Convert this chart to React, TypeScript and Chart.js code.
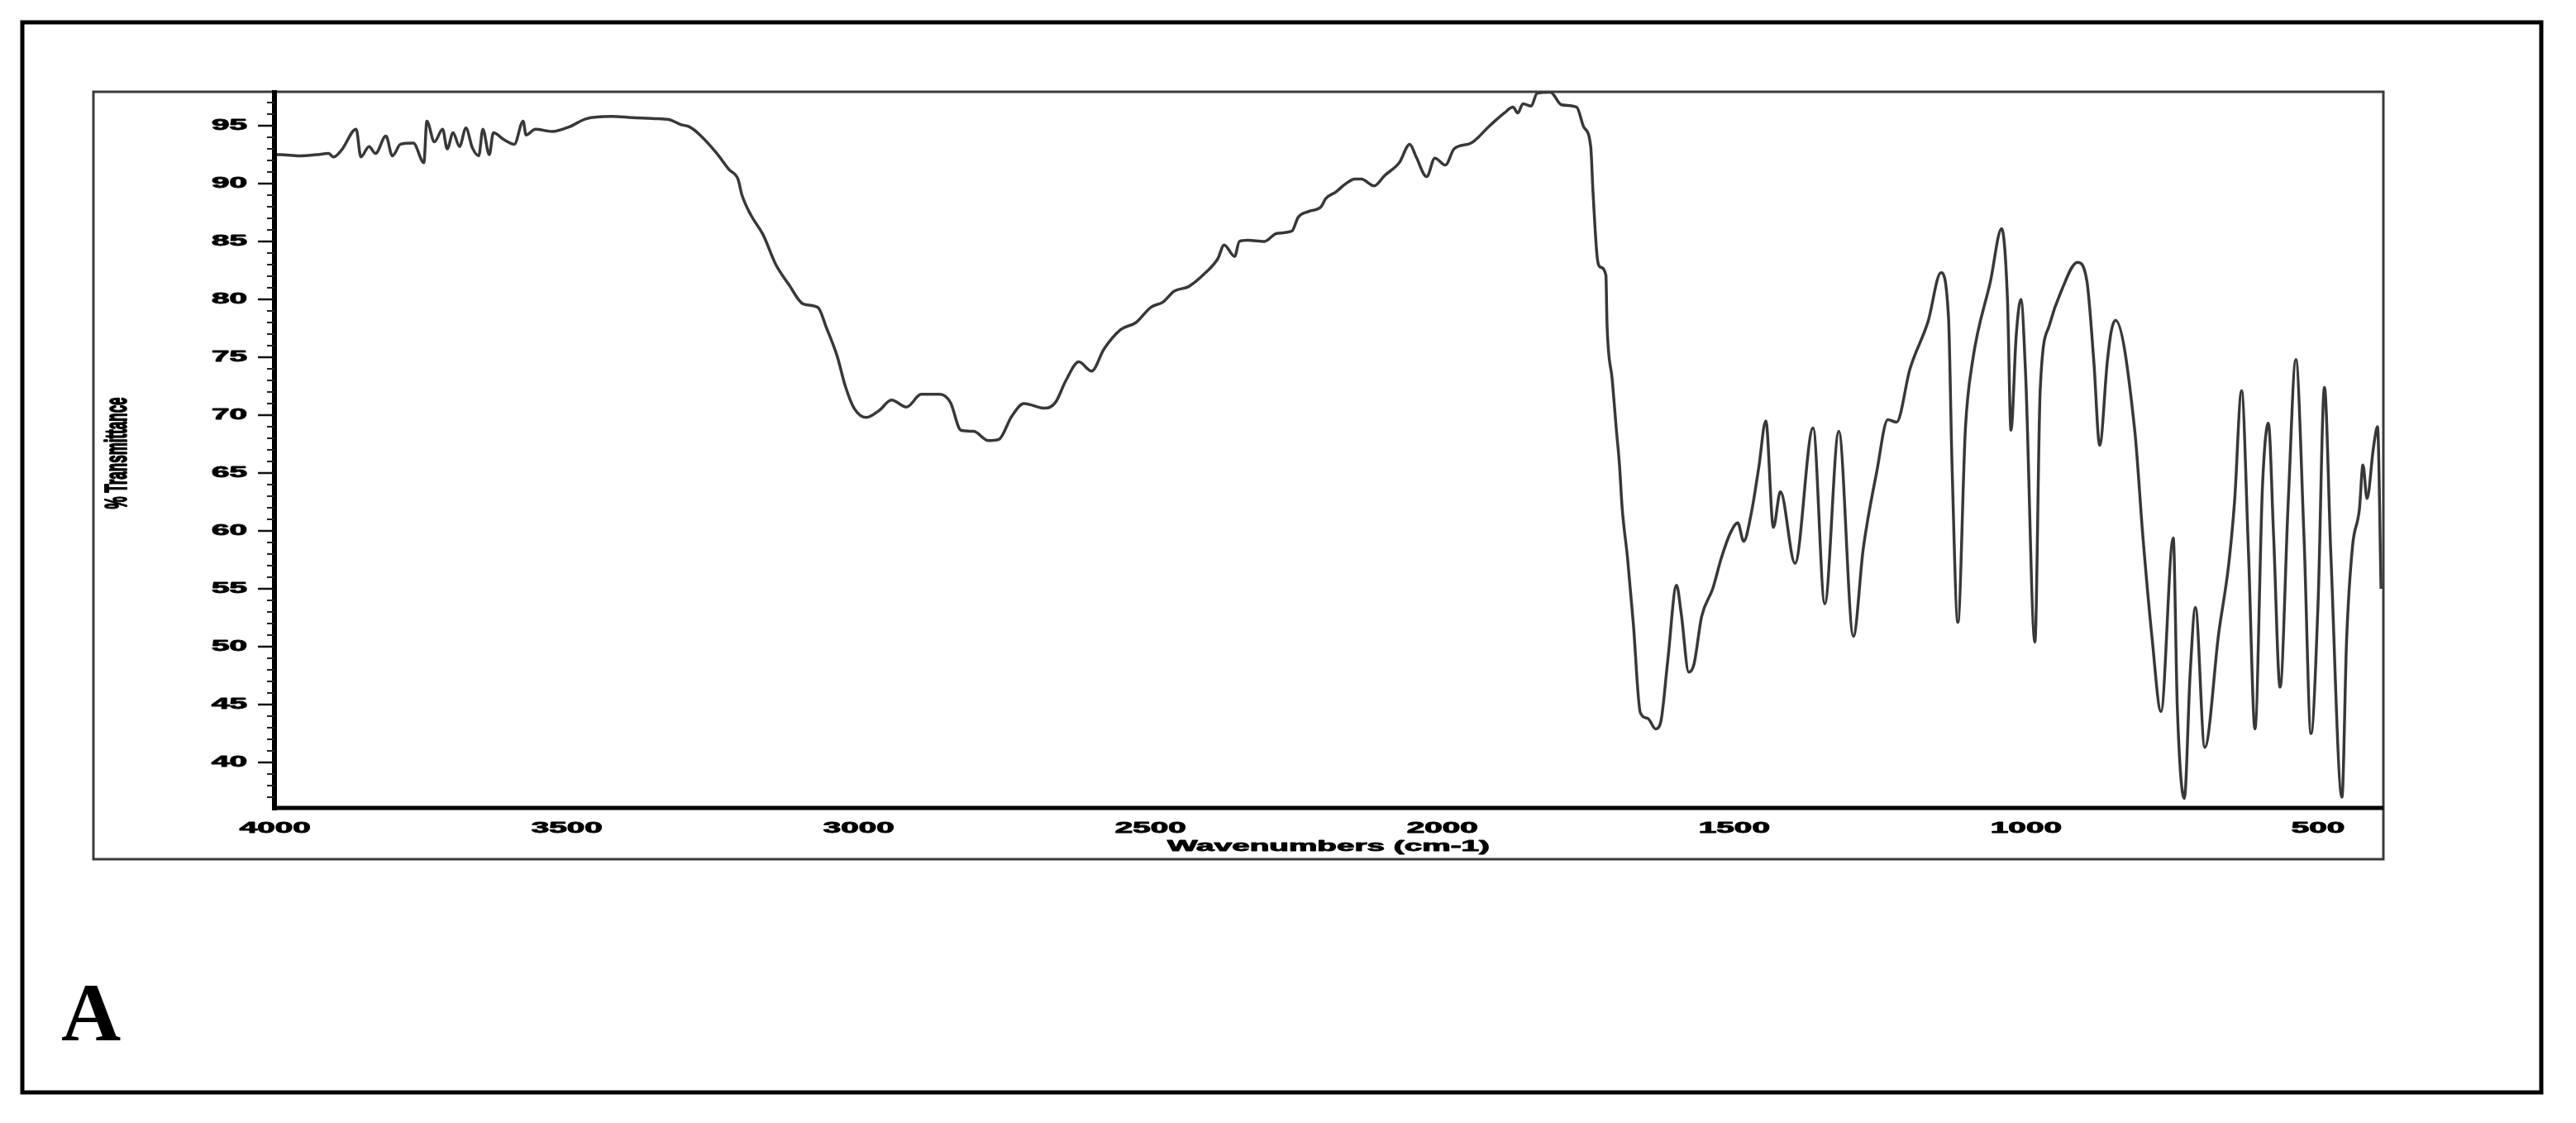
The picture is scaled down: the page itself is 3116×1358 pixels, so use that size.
import React, { useEffect, useRef } from "react";
import { Chart, registerables } from "chart.js";

Chart.register(...registerables);

// Wavenumber (cm-1), descending
const wavenumbers = [
  4000, 3991, 3958, 3929, 3908, 3900, 3886, 3861, 3853, 3839, 3828, 3810, 3799, 3785, 3763, 3745, 3740,
  3727, 3713, 3705, 3695, 3684, 3673, 3662, 3651, 3644, 3633, 3626, 3608, 3590, 3575, 3570, 3554, 3525,
  3496, 3467, 3424, 3388, 3344, 3323, 3305, 3290, 3272, 3243, 3222, 3207, 3200, 3185, 3164, 3142, 3120,
  3095, 3070, 3055, 3037, 3023, 3008, 2987, 2965, 2944, 2918, 2893, 2861, 2843, 2825, 2803, 2778, 2760,
  2738, 2717, 2681, 2663, 2645, 2623, 2601, 2580, 2551, 2525, 2500, 2478, 2460, 2435, 2406, 2385, 2374,
  2356, 2348, 2334, 2305, 2284, 2258, 2247, 2229, 2208, 2200, 2182, 2168, 2150, 2139, 2117, 2099, 2074,
  2056, 2045, 2027, 2013, 1995, 1980, 1951, 1919, 1894, 1879, 1871, 1862, 1848, 1838, 1815, 1796, 1770,
  1758, 1746, 1742, 1735, 1730, 1720, 1718, 1709, 1702, 1697, 1692, 1683, 1673, 1661, 1648, 1635, 1626,
  1614, 1599, 1591, 1578, 1569, 1556, 1537, 1522, 1506, 1494, 1484, 1471, 1458, 1446, 1433, 1421, 1396,
  1365, 1345, 1321, 1296, 1279, 1256, 1237, 1222, 1199, 1168, 1146, 1133, 1127, 1117, 1104, 1092, 1061,
  1042, 1032, 1026, 1017, 1009, 1001, 985, 976, 960, 940, 912, 896, 884, 874, 861, 854, 847, 814, 800,
  784, 769, 748, 741, 729, 719, 710, 694, 670, 653, 643, 631, 619, 608, 595, 585, 576, 565, 551, 538,
  524, 512, 500, 489, 478, 459, 451, 441, 429, 423, 416, 405, 398, 392,
];

// % Transmittance
const transmittance = [
  92.5, 92.5, 92.4, 92.5, 92.6, 92.3, 92.9, 94.7, 92.3, 93.2, 92.6, 94.1, 92.4, 93.4, 93.5, 91.8, 95.4,
  93.6, 94.7, 93.0, 94.4, 93.2, 94.8, 93.1, 92.4, 94.7, 92.5, 94.4, 93.8, 93.4, 95.4, 94.2, 94.7, 94.5,
  94.9, 95.6, 95.8, 95.7, 95.6, 95.5, 95.1, 94.9, 94.2, 92.6, 91.2, 90.4, 89.0, 87.3, 85.6, 83.0, 81.3,
  79.6, 79.3, 77.5, 75.1, 72.5, 70.6, 69.8, 70.4, 71.3, 70.7, 71.8, 71.8, 71.1, 68.7, 68.6, 67.8, 67.9,
  69.9, 71.0, 70.6, 71.1, 73.0, 74.6, 73.8, 75.7, 77.4, 78.0, 79.3, 79.8, 80.7, 81.1, 82.3, 83.5, 84.7,
  83.7, 85.0, 85.1, 85.0, 85.7, 85.9, 87.1, 87.6, 88.0, 88.7, 89.3, 89.9, 90.4, 90.4, 89.8, 90.7, 91.8,
  93.4, 92.3, 90.6, 92.2, 91.6, 93.0, 93.5, 95.0, 96.1, 96.6, 96.1, 96.9, 96.7, 97.8, 97.9, 96.8, 96.6,
  94.9, 93.2, 89.2, 83.7, 82.8, 82.1, 77.8, 73.0, 68.7, 65.9, 61.9, 57.7, 52.0, 44.3, 43.8, 42.9, 43.5,
  48.8, 55.3, 52.9, 47.8, 48.5, 52.6, 55.0, 57.7, 59.9, 60.7, 59.1, 61.5, 65.5, 69.5, 60.3, 63.4, 57.2,
  68.9, 53.7, 68.6, 50.9, 58.5, 65.1, 69.6, 69.4, 74.0, 78.1, 82.3, 78.4, 65.7, 52.1, 68.9, 74.6, 81.6,
  86.1, 80.0, 68.7, 76.9, 80.0, 73.6, 50.4, 72.1, 77.8, 80.7, 83.2, 81.6, 74.6, 67.4, 74.6, 77.3, 78.2, 68.7, 59.5,
  50.6, 44.4, 59.4, 44.7, 36.9, 47.7, 53.4, 41.3, 51.2, 57.1, 62.5, 72.1, 58.0, 42.9, 64.0, 69.3, 59.5, 46.5, 62.5, 74.8,
  59.5, 42.5, 53.6, 72.4, 58.0, 37.0, 50.6, 58.6, 61.9, 65.7, 62.8, 67.2, 69.0, 55.0,
];

const xTickValues = [4000, 3500, 3000, 2500, 2000, 1500, 1000, 500];
const yTickValues = [40, 45, 50, 55, 60, 65, 70, 75, 80, 85, 90, 95];
const xTitle = "Wavenumbers (cm-1)";
const yTitle = "% Transmittance";
const panelLabel = "A";

const W = 3116;
const H = 1358;
const STRETCH = 2.15;
const TICK_FONT = "bold 18px 'Liberation Sans', Arial, sans-serif";

function stretchedText(
  ctx: CanvasRenderingContext2D,
  text: string,
  x: number,
  y: number,
  align: CanvasTextAlign,
  rotate = 0
) {
  ctx.save();
  ctx.translate(x, y);
  ctx.scale(STRETCH, 1);
  if (rotate) ctx.rotate(rotate);
  ctx.textAlign = align;
  ctx.textBaseline = "middle";
  ctx.lineWidth = 0.9;
  ctx.strokeStyle = "#000";
  ctx.lineJoin = "round";
  ctx.strokeText(text, 0, 0);
  ctx.fillText(text, 0, 0);
  ctx.restore();
}

const irPlugin = {
  id: "irFrame",
  beforeDatasetsDraw(chart: any) {
    const ctx: CanvasRenderingContext2D = chart.ctx;
    const { top, right } = chart.chartArea;
    ctx.save();
    // outer frame
    ctx.strokeStyle = "#000";
    ctx.lineWidth = 5;
    ctx.strokeRect(27, 27, 3047, 1294);
    // inner frame
    ctx.strokeStyle = "#3a3a3a";
    ctx.lineWidth = 3;
    ctx.strokeRect(113, top, right - 113, 1039 - top);
    ctx.restore();
  },
  afterDatasetsDraw(chart: any) {
    const ctx: CanvasRenderingContext2D = chart.ctx;
    const { top, bottom, right, left } = chart.chartArea;
    const xs = chart.scales.x;
    const ys = chart.scales.y;
    ctx.save();
    // axes
    ctx.strokeStyle = "#000";
    ctx.lineWidth = 6;
    ctx.beginPath();
    ctx.moveTo(left, top - 2);
    ctx.lineTo(left, bottom + 3);
    ctx.stroke();
    ctx.lineWidth = 5;
    ctx.beginPath();
    ctx.moveTo(left - 3, bottom);
    ctx.lineTo(right, bottom);
    ctx.stroke();
    // y minor ticks
    ctx.lineWidth = 2;
    ctx.strokeStyle = "#222";
    for (let v = Math.ceil(ys.min); v <= Math.floor(ys.max); v++) {
      const py = ys.getPixelForValue(v);
      ctx.beginPath();
      ctx.moveTo(left - 9, py);
      ctx.lineTo(left, py);
      ctx.stroke();
    }
    // y major ticks + labels
    ctx.fillStyle = "#000";
    ctx.font = TICK_FONT;
    ctx.lineWidth = 2.5;
    ctx.strokeStyle = "#111";
    ys.ticks.forEach((t: any) => {
      const py = ys.getPixelForValue(t.value);
      ctx.beginPath();
      ctx.moveTo(left - 20, py);
      ctx.lineTo(left, py);
      ctx.stroke();
      stretchedText(ctx, String(t.value), 299, py, "right");
    });
    // x labels
    xs.ticks.forEach((t: any) => {
      const px = xs.getPixelForValue(t.value);
      stretchedText(ctx, String(t.value), px, 1002, "center");
    });
    // titles
    stretchedText(ctx, xTitle, 1607, 1024, "center");
    ctx.font = "bold 17px 'Liberation Sans', Arial, sans-serif";
    stretchedText(ctx, yTitle, 143, 548, "center", -Math.PI / 2);
    // panel label
    ctx.font = "bold 100px 'Liberation Serif', 'Times New Roman', serif";
    ctx.textAlign = "left";
    ctx.textBaseline = "alphabetic";
    ctx.fillText(panelLabel, 74, 1258);
    ctx.restore();
  },
};

export default function App() {
  const ref = useRef<HTMLCanvasElement | null>(null);

  useEffect(() => {
    if (!ref.current) return;
    const points = wavenumbers.map((x, i) => ({ x, y: transmittance[i] }));
    const chart = new Chart(ref.current, {
      type: "scatter",
      data: {
        datasets: [
          {
            data: points,
            showLine: true,
            borderColor: "#383838",
            borderWidth: 3.5,
            pointRadius: 0,
            cubicInterpolationMode: "monotone",
            fill: false,
          },
        ],
      },
      options: {
        responsive: false,
        animation: false,
        devicePixelRatio: 1,
        layout: { padding: { left: 332, right: W - 2883, top: 111, bottom: H - 977 } },
        plugins: { legend: { display: false }, tooltip: { enabled: false } },
        scales: {
          x: {
            type: "linear",
            reverse: true,
            min: 388,
            max: 4001,
            grid: { display: false },
            border: { display: false },
            ticks: { display: false },
            afterBuildTicks: (s: any) => {
              s.ticks = xTickValues.map((v) => ({ value: v }));
            },
            afterFit: (s: any) => {
              s.height = 0;
            },
          },
          y: {
            type: "linear",
            min: 36.07,
            max: 97.93,
            grid: { display: false },
            border: { display: false },
            ticks: { display: false },
            afterBuildTicks: (s: any) => {
              s.ticks = yTickValues.map((v) => ({ value: v }));
            },
            afterFit: (s: any) => {
              s.width = 0;
            },
          },
        },
      },
      plugins: [irPlugin],
    });
    return () => chart.destroy();
  }, []);

  return (
    <div
      style={{
        position: "fixed",
        left: 0,
        top: 0,
        width: W,
        height: H,
        background: "#fff",
        overflow: "hidden",
      }}
    >
      <canvas ref={ref} width={W} height={H} style={{ display: "block", width: W, height: H }} />
    </div>
  );
}
